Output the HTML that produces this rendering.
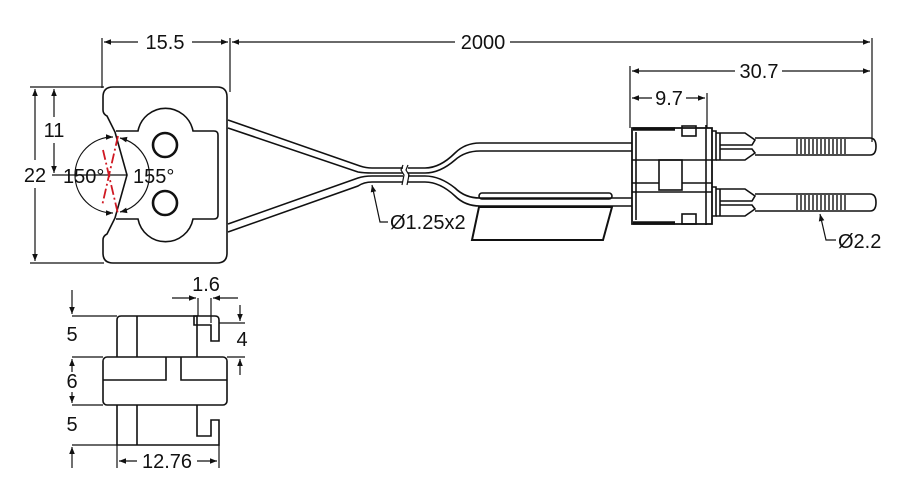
<!DOCTYPE html>
<html><head><meta charset="utf-8"><style>
html,body{margin:0;padding:0;background:#fff;}
svg{display:block;}
text{font-family:"Liberation Sans","DejaVu Sans",sans-serif;font-size:20px;fill:#111;}
</style></head><body>
<svg width="900" height="491" viewBox="0 0 900 491" xmlns="http://www.w3.org/2000/svg">
<defs>
<marker id="a" viewBox="0 0 10 10" refX="10" refY="5" markerWidth="11" markerHeight="7" orient="auto-start-reverse" markerUnits="userSpaceOnUse"><path d="M0,1 L10,5 L0,9 Z" fill="#111"/></marker>
</defs>
<g fill="none" stroke="#111" stroke-width="1.6">
<!-- top dims -->
<line x1="102" y1="38" x2="102" y2="88" stroke-width="1.2"/>
<line x1="230" y1="38" x2="230" y2="92" stroke-width="1.2"/>
<line x1="872" y1="38" x2="872" y2="142" stroke-width="1.2"/>
<line x1="630" y1="66" x2="630" y2="128" stroke-width="1.2"/>
<line x1="707" y1="93" x2="707" y2="128" stroke-width="1.2"/>
<line x1="104" y1="42" x2="138" y2="42" marker-start="url(#a)" stroke-width="1.2"/>
<line x1="192" y1="42" x2="228" y2="42" marker-end="url(#a)" stroke-width="1.2"/>
<line x1="232" y1="42" x2="455" y2="42" marker-start="url(#a)" stroke-width="1.2"/>
<line x1="510" y1="42" x2="870" y2="42" marker-end="url(#a)" stroke-width="1.2"/>
<line x1="632" y1="71" x2="735" y2="71" marker-start="url(#a)" stroke-width="1.2"/>
<line x1="782" y1="71" x2="870" y2="71" marker-end="url(#a)" stroke-width="1.2"/>
<line x1="632" y1="98" x2="652" y2="98" marker-start="url(#a)" stroke-width="1.2"/>
<line x1="686" y1="98" x2="705" y2="98" marker-end="url(#a)" stroke-width="1.2"/>
<!-- left dims -->
<line x1="30" y1="87" x2="104" y2="87" stroke-width="1.2"/>
<line x1="30" y1="263" x2="104" y2="263" stroke-width="1.2"/>
<line x1="52" y1="175" x2="127" y2="175" stroke-width="1.2"/>
<line x1="35" y1="89" x2="35" y2="160" marker-start="url(#a)" stroke-width="1.2"/>
<line x1="35" y1="188" x2="35" y2="261" marker-end="url(#a)" stroke-width="1.2"/>
<line x1="54" y1="89" x2="54" y2="117" marker-start="url(#a)" stroke-width="1.2"/>
<line x1="54" y1="143" x2="54" y2="173" marker-end="url(#a)" stroke-width="1.2"/>
<!-- body -->
<path d="M113,87 H217 Q227,87 227,97 V253 Q227,263 217,263 H113 Q103,263 103,253 V240 Q103,236 107,234 L115,218 L127,175 L115,132 L107,116 Q103,114 103,110 V97 Q103,87 113,87 Z"/>
<path d="M116,131 H138 A28,28 0 0 1 193,131 H214 Q218,131 218,135 V215 Q218,219 214,219 H193 A28,28 0 0 1 138,219 H116"/>
<circle cx="165" cy="145" r="12" stroke-width="2.6"/>
<circle cx="165" cy="203" r="12" stroke-width="2.6"/>
<path d="M113,137 A38,38 0 1 0 113,213" stroke-width="1.2" marker-start="url(#a)" marker-end="url(#a)"/>
<path d="M120,138 A38,38 0 0 1 120,212" stroke-width="1.2" marker-start="url(#a)" marker-end="url(#a)"/>
<!-- cables -->
<path d="M228,120 L360,166 Q366,168 372,168 H403"/>
<path d="M228,128 L358,172 Q364,173 372,173 H403"/>
<path d="M228,224 L358,178 Q364,176 372,176 H403"/>
<path d="M228,232 L358,186 Q364,182 372,182 H403"/>
<path d="M408,168 H425 Q440,168 455,153 Q465,143 480,143 H632"/>
<path d="M408,173 H425 Q440,173 455,160 Q465,151 480,151 H632"/>
<path d="M408,176 H425 Q440,176 455,188 Q465,198 480,198 H632"/>
<path d="M408,182 H425 Q440,182 455,196 Q465,206 480,206 H632"/>
<path d="M403,165 L401,170 L404,175 L402,185 M408,165 L406,170 L409,175 L407,185" stroke-width="1.2"/>
<!-- tag -->
<rect x="479" y="193" width="133" height="6" rx="3"/>
<path d="M479,207 H612 L603,240 H472 Z" stroke-width="2"/>
<!-- leaders -->
<path d="M372,185 L380,222 H388" stroke-width="1.2" marker-start="url(#a)"/>
<path d="M820,214 L826,240 H836" stroke-width="1.2" marker-start="url(#a)"/>
<!-- connector housing -->
<path d="M632,128 H712 V224 H632 Z" stroke-width="1.8"/>
<line x1="633" y1="129" x2="675" y2="129" stroke-width="3.5"/>
<line x1="633" y1="223" x2="675" y2="223" stroke-width="3.5"/>
<line x1="636" y1="132" x2="636" y2="220"/>
<line x1="632" y1="160" x2="712" y2="160"/>
<line x1="632" y1="192" x2="712" y2="192"/>
<rect x="659" y="160" width="23" height="30"/>
<line x1="632" y1="183" x2="659" y2="183"/>
<line x1="682" y1="183" x2="712" y2="183"/>
<rect x="682" y="126" width="14" height="10"/>
<rect x="682" y="214" width="14" height="10"/>
<line x1="706" y1="125" x2="706" y2="225"/>
<!-- pins -->
<g id="p">
<path d="M712,131 H716 V160 H712"/>
<path d="M716,133 H745 L755,140 L752,145 H720"/>
<path d="M720,149 H752 L755,153 L745,160 H716"/>
<line x1="720" y1="133" x2="720" y2="160"/>
<path d="M755,138 H870 Q876,138 876,146.5 Q876,155 870,155 H755"/>
<path d="M797,139 V154 M801,139 V154 M805,139 V154 M809,139 V154 M813,139 V154 M817,139 V154 M821,139 V154 M825,139 V154 M829,139 V154 M833,139 V154 M837,139 V154 M841,139 V154 M845,139 V154" stroke-width="1.4"/>
</g>
<use href="#p" transform="translate(0,56)"/>
</g>
<!-- red center lines -->
<g stroke="#d01822" stroke-width="1.8" stroke-dasharray="10,3,2,3" fill="none">
<line x1="118" y1="136" x2="102" y2="206"/>
<line x1="103" y1="150" x2="118" y2="214"/>
</g>
<!-- texts top view -->
<text x="165" y="49" text-anchor="middle">15.5</text>
<text x="483" y="49" text-anchor="middle">2000</text>
<text x="759" y="78" text-anchor="middle">30.7</text>
<text x="669" y="105" text-anchor="middle">9.7</text>
<rect x="22" y="163" width="26" height="22" fill="#fff"/>
<text x="35" y="182" text-anchor="middle">22</text>
<text x="54" y="137" text-anchor="middle">11</text>
<text x="63" y="183">150°</text>
<text x="133" y="183">155°</text>
<text x="390" y="229">Ø1.25x2</text>
<text x="838" y="248">Ø2.2</text>
<!-- bottom view -->
<g fill="none" stroke="#111" stroke-width="1.6">
<path d="M117,357 V320 Q117,316 121,316 H197 V357"/>
<line x1="137" y1="316" x2="137" y2="357"/>
<path d="M194,316 H215 Q219,316 219,320 V341 H211 V325 H194 Z"/>
<rect x="103" y="357" width="124" height="48" rx="4"/>
<path d="M103,380 H166 V357 M227,380 H181 V357"/>
<path d="M117,405 V445 H219 V420 H211 V436 H197 V405"/>
<line x1="137" y1="405" x2="137" y2="445"/>
<g stroke-width="1.2">
<line x1="72" y1="316" x2="117" y2="316"/>
<line x1="72" y1="357" x2="103" y2="357"/>
<line x1="72" y1="405" x2="103" y2="405"/>
<line x1="72" y1="445" x2="117" y2="445"/>
<line x1="227" y1="357" x2="245" y2="357"/>
<line x1="219" y1="323" x2="245" y2="323"/>
<line x1="198" y1="298" x2="198" y2="316"/>
<line x1="211" y1="298" x2="211" y2="323"/>
<line x1="117" y1="445" x2="117" y2="468"/>
<line x1="219" y1="445" x2="219" y2="468"/>
<line x1="72" y1="290" x2="72" y2="314" marker-end="url(#a)"/>
<line x1="72" y1="372" x2="72" y2="359" marker-end="url(#a)"/>
<line x1="72" y1="392" x2="72" y2="403" marker-end="url(#a)"/>
<line x1="72" y1="468" x2="72" y2="447" marker-end="url(#a)"/>
<line x1="240" y1="305" x2="240" y2="321" marker-end="url(#a)"/>
<line x1="240" y1="375" x2="240" y2="359" marker-end="url(#a)"/>
<line x1="172" y1="298" x2="196" y2="298" marker-end="url(#a)"/>
<line x1="238" y1="298" x2="213" y2="298" marker-end="url(#a)"/>
<line x1="119" y1="461" x2="137" y2="461" marker-start="url(#a)"/>
<line x1="197" y1="461" x2="217" y2="461" marker-end="url(#a)"/>
</g>
</g>
<text x="206" y="291" text-anchor="middle">1.6</text>
<text x="242" y="346" text-anchor="middle">4</text>
<text x="72" y="341" text-anchor="middle">5</text>
<text x="72" y="388" text-anchor="middle">6</text>
<text x="72" y="431" text-anchor="middle">5</text>
<text x="167" y="468" text-anchor="middle">12.76</text>
</svg>
</body></html>
